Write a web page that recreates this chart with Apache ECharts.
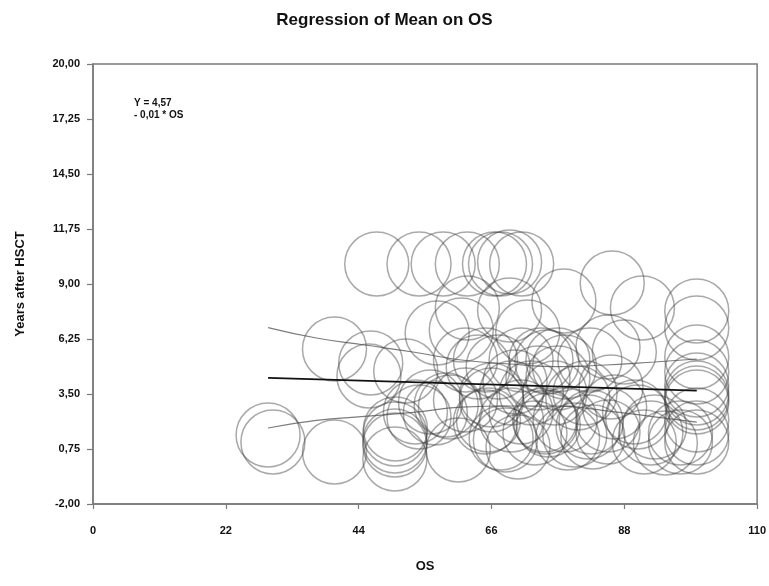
<!DOCTYPE html>
<html>
<head>
<meta charset="utf-8">
<script src="https://cdn.jsdelivr.net/npm/echarts@6/dist/echarts.min.js"></script>
<style>html,body{margin:0;padding:0;background:#fff;}#c{width:769px;height:586px;}</style>
</head>
<body>
<div id="c"></div>
<script>
// ---- data ----
const chartTitle = 'Regression of Mean on OS';
const xName = 'OS';
const yName = 'Years after HSCT';
const equationLines = ['Y = 4,57', '- 0,01 * OS'];
const xTicks = [0, 22, 44, 66, 88, 110];
const yTicks = [-2, 0.75, 3.5, 6.25, 9, 11.75, 14.5, 17.25, 20];

// observations (OS, years after HSCT)
const osValues = [
  47, 54, 58, 62, 66.5, 67.5, 69, 71,
  62, 69, 78, 86, 91, 100,
  57, 61, 72, 100,
  40, 46, 88, 85.3, 100,
  45.7, 51.8, 61.7, 63.8, 65, 67.1, 70.9, 74.2, 75.2, 77, 78.1, 82.3, 100,
  85.8, 100, 100, 100, 100, 69.3, 72.6, 66, 76.5, 81.5, 69.9, 73.7, 77, 80.3, 66,
  55.9, 56.7, 54, 58.5, 61.7, 53.4, 59.2,
  50.1, 50, 50, 50, 50,
  29, 29.8, 40, 60.5,
  75.4, 74.8, 73.2, 79.8, 82, 82.8, 78.2, 69.3, 65.5, 68.3, 70.4, 85.3, 86.4, 90.2, 92.4,
  100, 100, 100, 97.3, 97.3, 93, 94.8,
  75, 82.5, 78.6, 85.3, 91.3, 67.6, 65, 70.9, 89.7
];
const yearValues = [
  10, 10, 10, 10, 10, 10, 10.1, 10,
  7.8, 7.7, 8.15, 9.05, 7.8, 7.65,
  6.55, 6.7, 6.6, 6.8,
  5.75, 5.05, 5.6, 5.85, 5.35,
  4.4, 4.65, 5.2, 4.85, 5.2, 4.85, 5.2, 5.2, 5.1, 5.2, 4.85, 5.2, 4.6,
  3.85, 3.95, 3.55, 3.3, 3.1, 3.55, 3.55, 3.2, 3.55, 3.55, 4.1, 4.3, 4.3, 3.3, 3.45,
  3.1, 2.55, 2.35, 2.95, 3.2, 2.6, 2.85,
  1.75, 1.5, 1.15, 0.95, 0.25,
  1.45, 1.1, 0.6, 0.7,
  1.95, 2.2, 1.55, 1.45, 1.85, 1.35, 2.2, 2.2, 2.2, 1.2, 0.85, 2.2, 2.85, 2.35, 1.55,
  2.2, 1.55, 1.1, 1.1, 1.55, 1.85, 1.05,
  2.1, 2.1, 1.3, 1.6, 1.1, 1.3, 2.1, 2.6, 2.6
];

// regression line and its confidence band
const fitOS = [29, 100];
const fitY = [4.31, 3.67];
const bandOS = [29, 37, 45, 53, 61, 69, 77, 85, 93, 100];
const bandUpper = [6.82, 6.3, 5.95, 5.6, 5.2, 5.0, 4.87, 4.95, 5.1, 5.25];
const bandLower = [1.8, 2.18, 2.38, 2.58, 2.84, 2.9, 2.89, 2.66, 2.36, 2.09];

// ---- chart ----
const pairs = (xs, ys) => xs.map((x, i) => [x, ys[i]]);
const FONT = '"Liberation Sans", Arial, sans-serif';
const fmtComma = v => v.toFixed(2).replace('.', ',');

const chart = echarts.init(document.getElementById('c'), null, {renderer: 'canvas'});
chart.setOption({
  animation: false,
  backgroundColor: '#ffffff',
  title: {
    text: chartTitle, left: 'center', top: 7,
    textStyle: {fontFamily: FONT, fontSize: 17, fontWeight: 'bold', color: '#111'}
  },
  grid: {
    left: 93, right: 9, top: 64, bottom: 82,
    show: true, borderColor: '#7a7a7a', borderWidth: 1.5, backgroundColor: 'transparent'
  },
  graphic: [{
    type: 'text', left: 134, top: 97,
    style: {
      text: equationLines.join('\n'), fill: '#111',
      font: 'bold 10px ' + FONT, lineHeight: 12
    }
  }],
  xAxis: {
    type: 'value', min: xTicks[0], max: xTicks[xTicks.length - 1],
    interval: xTicks[1] - xTicks[0],
    name: xName, nameLocation: 'middle', nameGap: 56,
    nameTextStyle: {fontFamily: FONT, fontSize: 13, fontWeight: 'bold', color: '#111'},
    axisLine: {show: true, onZero: false, lineStyle: {color: '#7a7a7a', width: 1.5}},
    axisTick: {show: true, length: 5, lineStyle: {color: '#7a7a7a', width: 1.2}},
    axisLabel: {margin: 21, fontFamily: FONT, fontSize: 11, fontWeight: 'bold', color: '#111'},
    splitLine: {show: false}
  },
  yAxis: {
    type: 'value', min: yTicks[0], max: yTicks[yTicks.length - 1],
    interval: yTicks[1] - yTicks[0],
    name: yName, nameLocation: 'middle', nameGap: 66, nameRotate: 90,
    nameTextStyle: {fontFamily: FONT, fontSize: 13, fontWeight: 'bold', color: '#111'},
    axisLine: {show: true, onZero: false, lineStyle: {color: '#7a7a7a', width: 1.5}},
    axisTick: {show: true, length: 6, lineStyle: {color: '#7a7a7a', width: 1.2}},
    axisLabel: {margin: 13, fontFamily: FONT, fontSize: 11, fontWeight: 'bold', color: '#111',
      formatter: v => fmtComma(v)},
    splitLine: {show: false}
  },
  series: [
    {
      type: 'scatter', data: pairs(osValues, yearValues),
      symbol: 'circle', symbolSize: 64, clip: false,
      itemStyle: {color: 'rgba(0,0,0,0)', borderColor: 'rgba(60,60,60,0.55)', borderWidth: 1.5},
      z: 2
    },
    {
      type: 'line', data: pairs(bandOS, bandUpper), smooth: true, symbol: 'none',
      lineStyle: {color: 'rgba(80,80,80,0.75)', width: 1.2}, z: 3
    },
    {
      type: 'line', data: pairs(bandOS, bandLower), smooth: true, symbol: 'none',
      lineStyle: {color: 'rgba(80,80,80,0.75)', width: 1.2}, z: 3
    },
    {
      type: 'line', data: pairs(fitOS, fitY), symbol: 'none',
      lineStyle: {color: '#111', width: 1.8}, z: 4
    }
  ]
});
</script>
</body>
</html>
